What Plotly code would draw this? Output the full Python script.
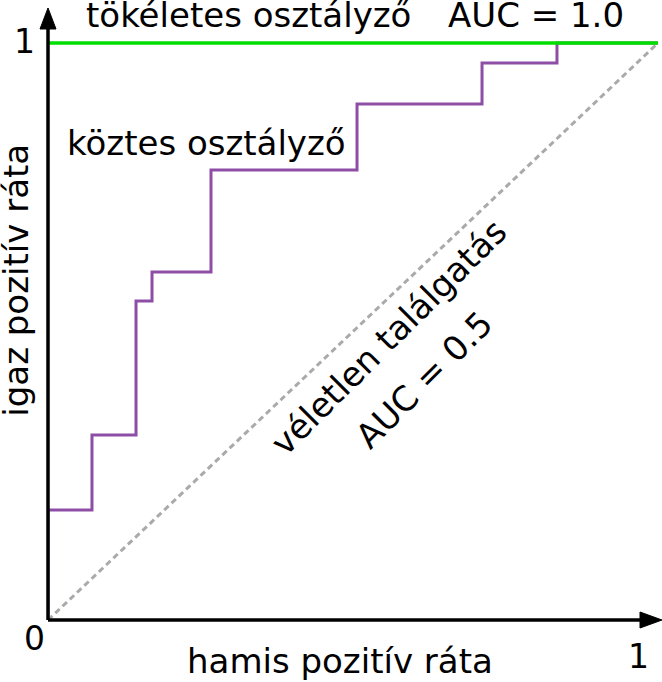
import plotly.graph_objects as go

# ROC data
fpr_mid = [0.0, 0.0721, 0.1443, 0.1705, 0.2672, 0.5066, 0.7115, 0.8344, 1.0]
tpr_mid = [0.0, 0.1906, 0.3206, 0.5529, 0.6031, 0.7799, 0.8943, 0.9653, 1.0]
perfect_x = [0.0, 1.0]
perfect_y = [1.0, 1.0]
random_x = [0.0, 1.0]
random_y = [0.0, 1.0]

FONT = "DejaVu Sans"
FS = 34
XMAX = 614 / 610
YMAX = 612 / 577

fig = go.Figure()
fig.add_trace(go.Scatter(x=random_x, y=random_y, mode="lines",
                         line=dict(color="#aaaaaa", width=3, dash="6px,4px"),
                         hoverinfo="skip", cliponaxis=False))
fig.add_trace(go.Scatter(x=fpr_mid, y=tpr_mid, mode="lines", line_shape="vh",
                         line=dict(color="#8e4ea6", width=3),
                         hoverinfo="skip", cliponaxis=False))
fig.add_trace(go.Scatter(x=perfect_x, y=perfect_y, mode="lines",
                         line=dict(color="#00dd00", width=3.5),
                         hoverinfo="skip", cliponaxis=False))

# axes drawn as arrows (paper-referenced so they are not clipped)
shapes = [
    dict(type="line", xref="paper", yref="paper", x0=0, y0=0, x1=0.975, y1=0,
         line=dict(color="black", width=3.5)),
    dict(type="line", xref="paper", yref="paper", x0=0, y0=0, x1=0, y1=0.975,
         line=dict(color="black", width=3.5)),
    dict(type="path", xref="paper", yref="paper", xsizemode="pixel", ysizemode="pixel",
         xanchor=1, yanchor=0, path="M0,0 L-22,8 L-22,-8 Z",
         fillcolor="black", line=dict(color="black", width=1)),
    dict(type="path", xref="paper", yref="paper", xsizemode="pixel", ysizemode="pixel",
         xanchor=0, yanchor=1, path="M0,0 L-8,-21 L8,-21 Z",
         fillcolor="black", line=dict(color="black", width=1)),
]

def ann(text, x, y, xanchor="center", angle=0, size=FS, ref="x"):
    return dict(text=text, x=x, y=y,
                xref="x" if ref == "x" else "paper",
                yref="y" if ref == "x" else "paper",
                showarrow=False,
                xanchor=xanchor, yanchor="middle", textangle=angle,
                font=dict(family=FONT, size=size, color="black"))

annotations = [
    ann("tökéletes osztályző", 0.059, 1.048, "left"),
    ann("AUC = 1.0", 0.652, 1.048, "left"),
    ann("köztes osztályző", 0.028, 0.826, "left"),
    ann("véletlen találgatás", 0.559, 0.490, angle=-45),
    ann("AUC = 0.5", 0.616, 0.416, angle=-45),
    ann("hamis pozitív ráta", 0.4756, -0.0662, ref="paper"),
    ann("igaz pozitív ráta", -0.0525, 0.5556, angle=-90, ref="paper"),
    ann("1", -0.0383, 0.9453, size=33, ref="paper"),
    ann("0", -0.0228, -0.0302, size=33, ref="paper"),
    ann("1", 0.9617, -0.0596, size=33, ref="paper"),
]

fig.update_layout(
    width=662, height=682,
    margin=dict(l=48, r=0, t=8, b=62),
    paper_bgcolor="white", plot_bgcolor="white",
    showlegend=False,
    xaxis=dict(range=[0, XMAX], visible=False, fixedrange=True),
    yaxis=dict(range=[0, YMAX], visible=False, fixedrange=True),
    shapes=shapes,
    annotations=annotations,
)

fig.write_html("out.html", config={"displayModeBar": False, "staticPlot": True},
               post_script="document.body.style.margin='0';document.body.style.overflow='hidden';")
